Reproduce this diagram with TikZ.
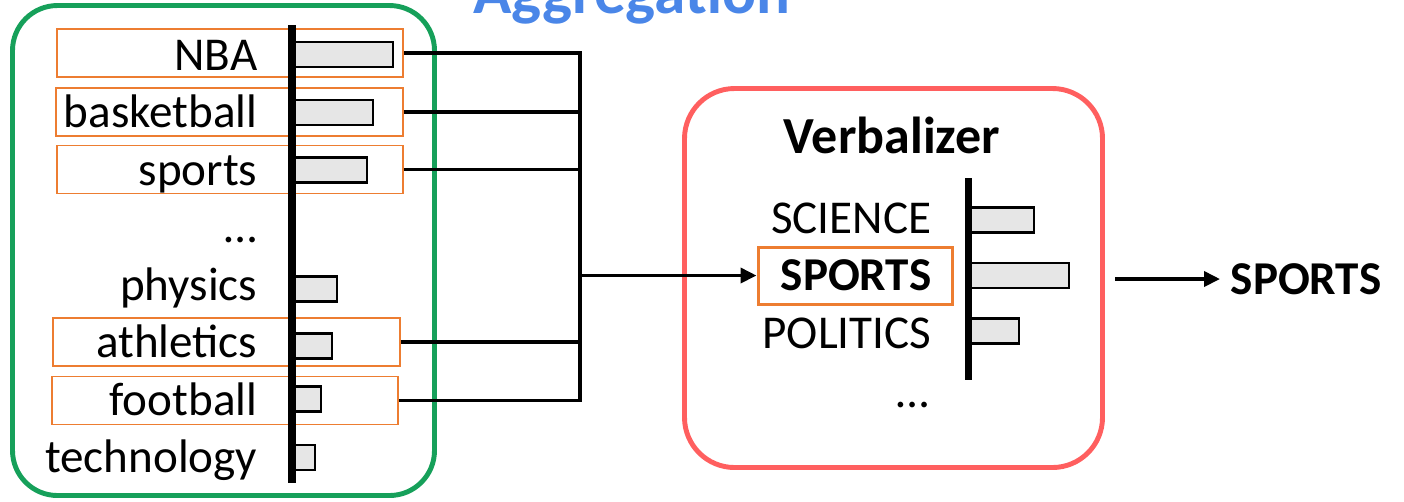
\documentclass[tikz,border=0pt]{standalone}
\usepackage{fontspec}
\setmainfont{Carlito}
\usepackage{tikz}
\usepackage{xcolor}
\usetikzlibrary{arrows.meta, positioning, calc}

\definecolor{aggGreen}{RGB}{22,160,90}
\definecolor{verbRed}{RGB}{255,95,95}
\definecolor{selOrange}{RGB}{237,125,49}
\definecolor{aggBlue}{RGB}{74,134,232}
\definecolor{barGray}{RGB}{230,230,230}

\begin{document}
\begin{tikzpicture}[x=1cm, y=-1cm,
    word/.style={font=\fontsize{13.4}{16}\selectfont, inner sep=0pt, anchor=base east},
    pick/.style={draw=selOrange, line width=0.45pt, inner sep=0pt, minimum height=0.48cm},
    barbox/.style={draw=black, fill=barGray, line width=0.75pt},
    axis/.style={line width=2pt},
    wire/.style={line width=1.05pt},
    tip/.style={-{Triangle[length=0.16cm, width=0.15cm]}}]

    \useasboundingbox (0,0) rectangle (14.04,5.01);

    % Outer boxes
    \node[draw=aggGreen, line width=1.4pt, rounded corners=0.45cm, minimum width=4.22cm,
          minimum height=4.90cm, inner sep=0pt] (agg) at (2.235,2.505) {};
    \node[draw=verbRed, line width=1.4pt, rounded corners=0.5cm, minimum width=4.18cm,
          minimum height=3.79cm, inner sep=0pt] (verb) at (8.935,2.78) {};

    % Title (cut at the top)
    \node[font=\fontsize{18}{20}\selectfont\bfseries, text=aggBlue, anchor=base,
          inner sep=0pt] (title) at (6.32,0.13) {Aggregation};

    % Selected words
    \node[pick, minimum width=3.46cm] (pNBA) at (2.30,0.53) {};
    \node[pick, minimum width=3.47cm] (pBasket) at (2.295,1.12) {};
    \node[pick, minimum width=3.46cm] (pSports) at (2.30,1.695) {};
    \node[pick, minimum width=3.47cm] (pAthl) at (2.265,3.42) {};
    \node[pick, minimum width=3.46cm] (pFoot) at (2.25,4.005) {};

    % Label words
    \node[word] (wNBA) at (2.58,0.70) {NBA};
    \node[word] (wBasket) at (2.58,1.275) {basketball};
    \node[word] (wSports) at (2.58,1.85) {sports};
    \node[word] (wDots) at (2.58,2.425) {…};
    \node[word] (wPhys) at (2.58,3.00) {physics};
    \node[word] (wAthl) at (2.58,3.575) {athletics};
    \node[word] (wFoot) at (2.58,4.15) {football};
    \node[word] (wTech) at (2.58,4.725) {technology};

    % Word scores
    \foreach \y/\r in {0.545/3.93, 1.125/3.73, 1.70/3.67, 2.89/3.37, 3.46/3.32, 3.99/3.21, 4.575/3.15}
        \draw[barbox] (2.92,\y-0.125) rectangle (\r,\y+0.125);
    \draw[axis] (2.92,0.25) -- (2.92,4.83);

    % Aggregation wires
    \coordinate (bus) at (5.80,2.755);
    \draw[wire] (pNBA.east) -| (bus);
    \draw[wire] (pBasket.east) -| (bus);
    \draw[wire] (pSports.east) -| (bus);
    \draw[wire] (pAthl.east) -| (bus);
    \draw[wire] (pFoot.east) -| (bus);

    % Verbalizer
    \node[font=\fontsize{14.8}{17}\selectfont\bfseries, anchor=base, inner sep=0pt] (vTitle) at (8.92,1.53) {Verbalizer};
    \node[draw=selOrange, line width=0.85pt, minimum width=1.94cm, minimum height=0.57cm,
          inner sep=0pt] (selbox) at (8.55,2.755) {};
    \node[word] (vScience) at (9.32,2.33) {SCIENCE};
    \node[word, font=\fontsize{13.4}{16}\selectfont\bfseries] (vSports) at (9.32,2.90) {SPORTS};
    \node[word] (vPolitics) at (9.32,3.48) {POLITICS};
    \node[word] (vDots) at (9.30,4.07) {…};

    \foreach \y/\r in {2.20/10.34, 2.755/10.69, 3.31/10.19}
        \draw[barbox] (9.68,\y-0.125) rectangle (\r,\y+0.125);
    \draw[axis] (9.68,1.78) -- (9.68,3.80);

    \draw[wire, tip] (bus) -- (selbox.west);

    % Output
    \node[font=\fontsize{13.4}{16}\selectfont\bfseries, anchor=west, inner sep=0pt] (out) at (12.30,2.79) {SPORTS};
    \coordinate (outStart) at (11.15,2.79);
    \draw[wire, tip] (outStart) -- ([xshift=-0.10cm]out.west);
\end{tikzpicture}
\end{document}
